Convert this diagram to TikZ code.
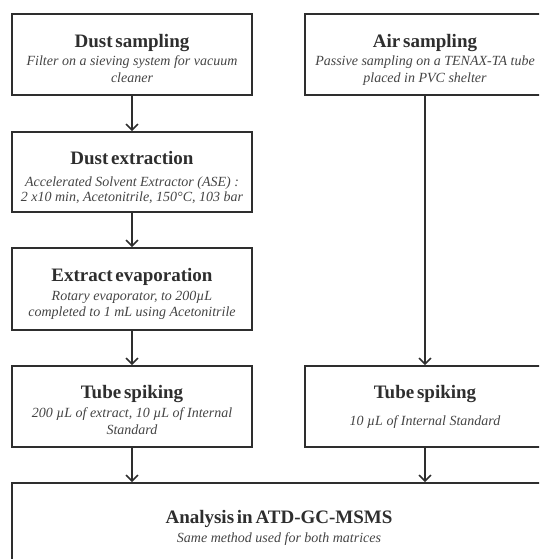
\documentclass[tikz,border=0pt]{standalone}
\usepackage{fontspec}
\setmainfont{Liberation Serif}
\usetikzlibrary{arrows.meta}
\definecolor{ink}{HTML}{2E2E2E}
\definecolor{subink}{HTML}{444444}
\newcommand\ttlfont{\fontsize{19}{22}\selectfont\bfseries\spaceskip=2.8pt\relax}
\tikzset{
  box/.style={draw=ink, line width=1.8pt, inner sep=0pt},
  ttl/.style={anchor=base, inner sep=0pt, text=ink, font=\ttlfont},
  sub/.style={anchor=base, inner sep=0pt, text=subink, font=\fontsize{14}{16}\selectfont\itshape},
  arr/.style={draw=ink, line width=1.5pt, -{Straight Barb[length=6pt,width=12pt,line width=1.5pt]}}
}
\begin{document}
\begin{tikzpicture}[x=1pt,y=-1pt]
\useasboundingbox (0,0) rectangle (539,559);
\clip (0,0) rectangle (539,559);
% boxes
\node[box, minimum width=240pt, minimum height=81pt] (ds) at (132,54.5) {};
\node[box, minimum width=240pt, minimum height=81pt] (as) at (425,54.5) {};
\node[box, minimum width=240pt, minimum height=80pt] (de) at (132,172) {};
\node[box, minimum width=240pt, minimum height=82pt] (ee) at (132,289) {};
\node[box, minimum width=240pt, minimum height=81pt] (ts1) at (132,406.5) {};
\node[box, minimum width=240pt, minimum height=81pt] (ts2) at (425,406.5) {};
\node[box, minimum width=534pt, minimum height=90pt] (an) at (279,528) {};
% texts
\node[ttl] (dst) at (132,48) {Dust sampling};
\node[sub] (dss1) at (132,66) {Filter on a sieving system for vacuum};
\node[sub] (dss2) at (132,83) {cleaner};
\node[ttl] (ast) at (425,48) {Air sampling};
\node[sub] (ass1) at (425,66) {Passive sampling on a TENAX-TA tube};
\node[sub] (ass2) at (425,83) {placed in PVC shelter};
\node[ttl] (det) at (132,164) {Dust extraction};
\node[sub] (des1) at (132,186) {Accelerated Solvent Extractor (ASE) :};
\node[sub] (des2) at (132,201) {2 x10 min, Acetonitrile, 150°C, 103 bar};
\node[ttl] (eet) at (132,281) {Extract evaporation};
\node[sub] (ees1) at (132,300.5) {Rotary evaporator, to 200µL};
\node[sub] (ees2) at (132,316) {completed to 1 mL using Acetonitrile};
\node[ttl] (ts1t) at (132,398) {Tube spiking};
\node[sub] (ts1s1) at (132,417) {200 µL of extract, 10 µL of Internal};
\node[sub] (ts1s2) at (132,434) {Standard};
\node[ttl] (ts2t) at (425,398) {Tube spiking};
\node[sub] (ts2s1) at (425,425) {10 µL of Internal Standard};
\node[ttl] (ant) at (279,523.5) {Analysis in ATD-GC-MSMS};
\node[sub] (ans1) at (279,542.5) {Same method used for both matrices};
% connectors
\draw[arr] (ds.south) -- (de.north);
\draw[arr] (de.south) -- (ee.north);
\draw[arr] (ee.south) -- (ts1.north);
\draw[arr] (as.south) -- (ts2.north);
\draw[arr] (ts1.south) -- (ts1.south |- an.north);
\draw[arr] (ts2.south) -- (ts2.south |- an.north);
\end{tikzpicture}
\end{document}
